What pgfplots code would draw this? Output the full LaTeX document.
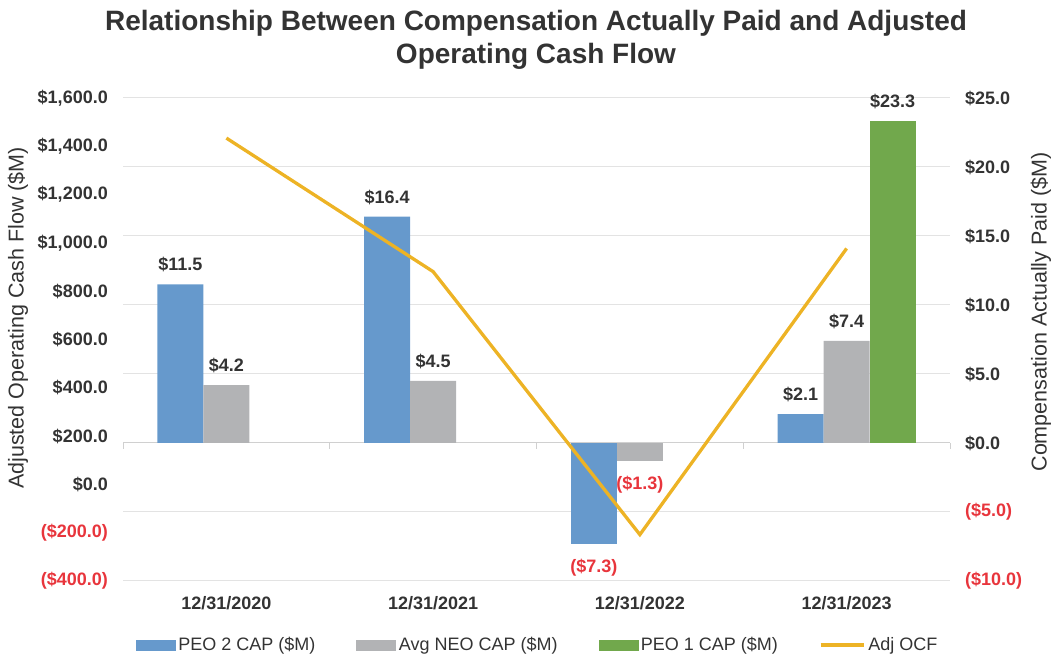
\documentclass[border=0pt]{standalone}
\usepackage{pgfplots}
\pgfplotsset{compat=1.18}
\usepackage{fontspec}
\setmainfont{Liberation Sans}
\definecolor{cBlue}{HTML}{6699CC}
\definecolor{cGray}{HTML}{B2B3B5}
\definecolor{cGreen}{HTML}{71A84C}
\definecolor{cGold}{HTML}{EDB325}
\definecolor{cRed}{HTML}{E8353C}
\definecolor{cText}{HTML}{333333}
\definecolor{cGrid}{HTML}{E3E3E3}
\definecolor{cAxis}{HTML}{D0D0D0}
\begin{document}
\begin{tikzpicture}[x=1pt,y=1pt]
\path[use as bounding box] (0,0) rectangle (1062,660);
\node[font=\fontsize{28}{33}\selectfont\bfseries, text=cText, align=center] at (536,620)
  {Relationship Between Compensation Actually Paid and Adjusted\\Operating Cash Flow};
\node[rotate=90, font=\fontsize{21.5}{24}\selectfont, text=cText] at (18,342) {Adjusted Operating Cash Flow (\$M)};
\node[rotate=90, font=\fontsize{21.5}{24}\selectfont, text=cText] at (1041,348) {Compensation Actually Paid (\$M)};

% Bars on the CAP axis (right)
\begin{axis}[
  at={(123pt,79pt)}, anchor=south west, scale only axis,
  width=827pt, height=483pt,
  xmin=-0.5, xmax=3.5, ymin=-10, ymax=25,
  axis line style={draw=none},
  major tick length=0pt,
  /pgf/number format/assume math mode=true,
  ytick={-10,-5,0,5,10,15,20,25},
  yticklabels={{\textcolor{cRed}{(\$10.0)}},{\textcolor{cRed}{(\$5.0)}},{\$0.0},{\$5.0},{\$10.0},{\$15.0},{\$20.0},{\$25.0}},
  yticklabel pos=right,
  yticklabel style={anchor=west, inner sep=0pt, xshift=15pt, font=\fontsize{18}{20}\selectfont\bfseries, text=cText},
  ymajorgrids, grid style={cGrid, line width=1pt},
  xtick={0,1,2,3},
  xticklabels={12/31/2020,12/31/2021,12/31/2022,12/31/2023},
  xticklabel style={anchor=north, inner sep=0pt, yshift=-15pt, font=\fontsize{18}{20}\selectfont\bfseries, text=cText},
  clip=false,
  every node near coord/.append style={font=\fontsize{18}{20}\selectfont\bfseries, text=cText, inner sep=0pt, yshift=12pt},
]
\draw[cAxis, line width=1pt] (axis cs:-0.5,0) -- (axis cs:3.5,0);
\pgfplotsinvokeforeach{-0.5,0.5,1.5,2.5,3.5}{\draw[cAxis, line width=1pt] (axis cs:#1,0) -- ++(0pt,-6pt);}
\addplot[ybar, bar width=0.2225, bar shift=-0.2225, fill=cBlue, draw=none,
  point meta=y, nodes near coords={\$\pgfmathprintnumber[fixed,fixed zerofill,precision=1]{\pgfplotspointmeta}},
  every node near coord/.append style={xshift=-46pt}]
  coordinates {(0,11.5) (1,16.4) (3,2.1)};
\addplot[ybar, bar width=0.2225, bar shift=-0.2225, fill=cBlue, draw=none,
  nodes near coords={(\$7.3)},
  every node near coord/.append style={text=cRed, yshift=-27.5pt, xshift=-46pt}]
  coordinates {(2,-7.3)};
\addplot[ybar, bar width=0.2225, bar shift=0, fill=cGray, draw=none,
  point meta=y, nodes near coords={\$\pgfmathprintnumber[fixed,fixed zerofill,precision=1]{\pgfplotspointmeta}}]
  coordinates {(0,4.2) (1,4.5) (3,7.4)};
\addplot[ybar, bar width=0.2225, bar shift=0, fill=cGray, draw=none,
  nodes near coords={(\$1.3)},
  every node near coord/.append style={text=cRed, yshift=-27.5pt}]
  coordinates {(2,-1.3)};
\addplot[ybar, bar width=0.2225, bar shift=0.2225, fill=cGreen, draw=none,
  point meta=y, nodes near coords={\$\pgfmathprintnumber[fixed,fixed zerofill,precision=1]{\pgfplotspointmeta}},
  every node near coord/.append style={xshift=46pt}]
  coordinates {(3,23.3)};
\end{axis}

% Line on the OCF axis (left)
\begin{axis}[
  at={(123pt,79pt)}, anchor=south west, scale only axis,
  width=827pt, height=483pt,
  xmin=-0.5, xmax=3.5, ymin=-400, ymax=1600,
  axis line style={draw=none},
  major tick length=0pt,
  xtick=\empty,
  ytick={-400,-200,0,200,400,600,800,1000,1200,1400,1600},
  yticklabels={{\textcolor{cRed}{(\$400.0)}},{\textcolor{cRed}{(\$200.0)}},{\$0.0},{\$200.0},{\$400.0},{\$600.0},{\$800.0},{\$1,000.0},{\$1,200.0},{\$1,400.0},{\$1,600.0}},
  yticklabel pos=left,
  yticklabel style={anchor=east, inner sep=0pt, xshift=-15pt, font=\fontsize{18}{20}\selectfont\bfseries, text=cText},
  clip=false,
  legend columns=4,
  legend style={at={(0.502,-0.1325)}, anchor=center, draw=none, fill=none,
    font=\fontsize{18}{20}\selectfont, text=cText,
    /tikz/every even column/.append style={column sep=38pt},
    nodes={inner xsep=3pt, inner ysep=0pt}},
]
\addlegendimage{legend image code/.code={\fill[cBlue] (0pt,-5pt) rectangle (39pt,5pt);}}
\addlegendentry{PEO 2 CAP (\$M)}
\addlegendimage{legend image code/.code={\fill[cGray] (0pt,-5pt) rectangle (39pt,5pt);}}
\addlegendentry{Avg NEO CAP (\$M)}
\addlegendimage{legend image code/.code={\fill[cGreen] (0pt,-5pt) rectangle (39pt,5pt);}}
\addlegendentry{PEO 1 CAP (\$M)}
\addplot[cGold, line width=3.3pt, mark=none,
  legend image code/.code={\draw[cGold, line width=3.3pt] (0pt,0pt) -- (43pt,0pt);}]
  coordinates {(0,1434) (1,881) (2,-208) (3,977)};
\addlegendentry{Adj OCF}
\end{axis}
\end{tikzpicture}
\end{document}
